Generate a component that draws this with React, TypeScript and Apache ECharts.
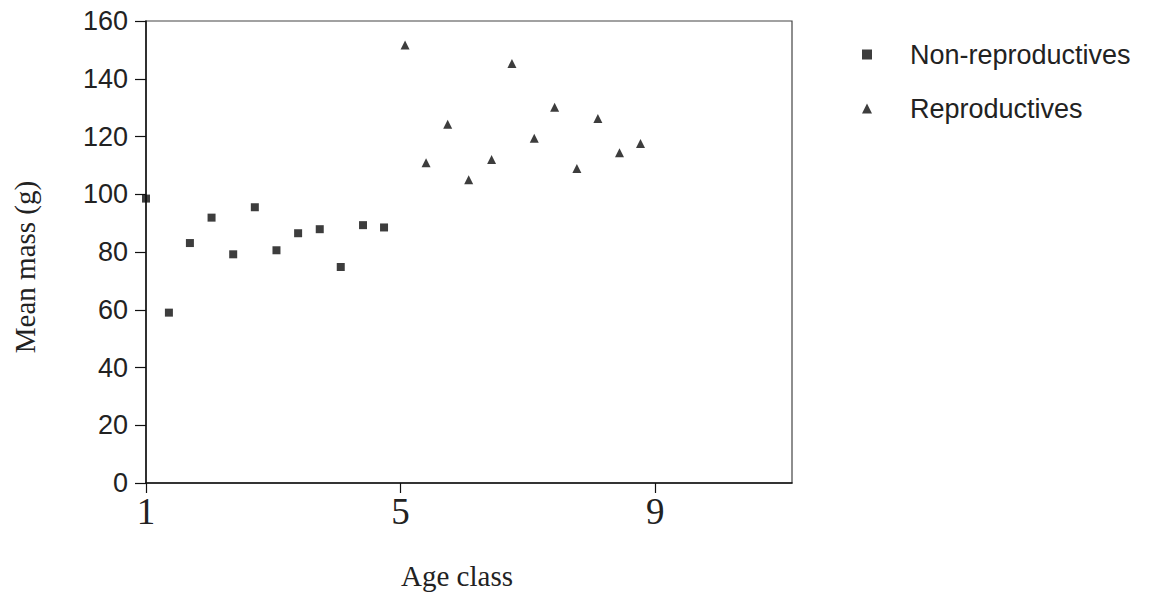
import React, { useEffect, useRef } from "react";
import * as echarts from "echarts";

const nonReproAge = [1.0, 1.36, 1.69, 2.03, 2.37, 2.71, 3.05, 3.39, 3.73, 4.06, 4.41, 4.74];
const nonReproMass = [98.5, 59, 83.1, 91.9, 79.2, 95.5, 80.6, 86.5, 87.9, 74.8, 89.3, 88.5];
const reproAge = [5.07, 5.4, 5.74, 6.07, 6.43, 6.75, 7.1, 7.42, 7.77, 8.1, 8.44, 8.77];
const reproMass = [151.7, 110.9, 124.2, 105, 112, 145.3, 119.4, 130.1, 108.9, 126.2, 114.4, 117.6];
const xTickValues = [1, 5, 9];
const seriesNames = ["Non-reproductives", "Reproductives"];

export default function App() {
  const ref = useRef<HTMLDivElement>(null);
  useEffect(() => {
    if (!ref.current) return;
    const chart = echarts.init(ref.current, null, { renderer: "svg" });
    const ink = "#0d0d0d";
    chart.setOption({
      animation: false,
      backgroundColor: "#ffffff",
      grid: {
        left: 146,
        right: 367,
        top: 21,
        bottom: 116,
        show: true,
        borderColor: "#444",
        borderWidth: 1.2,
        backgroundColor: "transparent",
      },
      legend: {
        left: 857,
        top: 36,
        orient: "vertical",
        itemWidth: 10,
        itemHeight: 10,
        itemGap: 27,
        data: [
          { name: seriesNames[0], icon: "rect" },
          { name: seriesNames[1], icon: "triangle" },
        ],
        textStyle: {
          fontFamily: "Liberation Sans, Arial, sans-serif",
          fontSize: 27,
          color: "#222",
          padding: [0, 0, 0, 33],
        },
      },
      xAxis: {
        type: "value",
        min: 1,
        max: 11.15,
        name: "Age class",
        nameLocation: "middle",
        nameGap: 78,
        nameTextStyle: {
          fontFamily: "Liberation Serif, Times New Roman, serif",
          fontSize: 29,
          color: "#222",
          padding: [0, 24, 0, 0],
        },
        axisLine: { show: true, lineStyle: { color: "#111", width: 1.5 } },
        axisTick: {
          show: true,
          length: 10,
          customValues: xTickValues,
          lineStyle: { color: "#111", width: 1.2 },
        },
        axisLabel: {
          customValues: xTickValues,
          fontFamily: "Liberation Serif, Times New Roman, serif",
          fontSize: 37,
          color: "#222",
          margin: 10,
        },
        splitLine: { show: false },
      },
      yAxis: {
        type: "value",
        min: 0,
        max: 160,
        interval: 20,
        name: "Mean mass (g)",
        nameLocation: "middle",
        nameGap: 107,
        nameTextStyle: {
          fontFamily: "Liberation Serif, Times New Roman, serif",
          fontSize: 29,
          color: "#222",
          padding: [0, 30, 0, 0],
        },
        axisLine: { show: true, lineStyle: { color: "#111", width: 1.5 } },
        axisTick: { show: true, length: 11, lineStyle: { color: "#111", width: 1.2 } },
        axisLabel: {
          fontFamily: "Liberation Sans, Arial, sans-serif",
          fontSize: 27,
          color: "#222",
          margin: 18,
        },
        splitLine: { show: false },
      },
      series: [
        {
          name: seriesNames[0],
          type: "scatter",
          symbol: "rect",
          symbolSize: 8,
          itemStyle: { color: ink },
          data: nonReproAge.map((x, i) => [x, nonReproMass[i]]),
        },
        {
          name: seriesNames[1],
          type: "scatter",
          symbol: "triangle",
          symbolSize: 9,
          itemStyle: { color: ink },
          data: reproAge.map((x, i) => [x, reproMass[i]]),
        },
      ],
    });
    return () => chart.dispose();
  }, []);
  return (
    <div
      ref={ref}
      style={{ position: "fixed", left: 0, top: 0, width: 1159, height: 599, background: "#fff" }}
    />
  );
}
